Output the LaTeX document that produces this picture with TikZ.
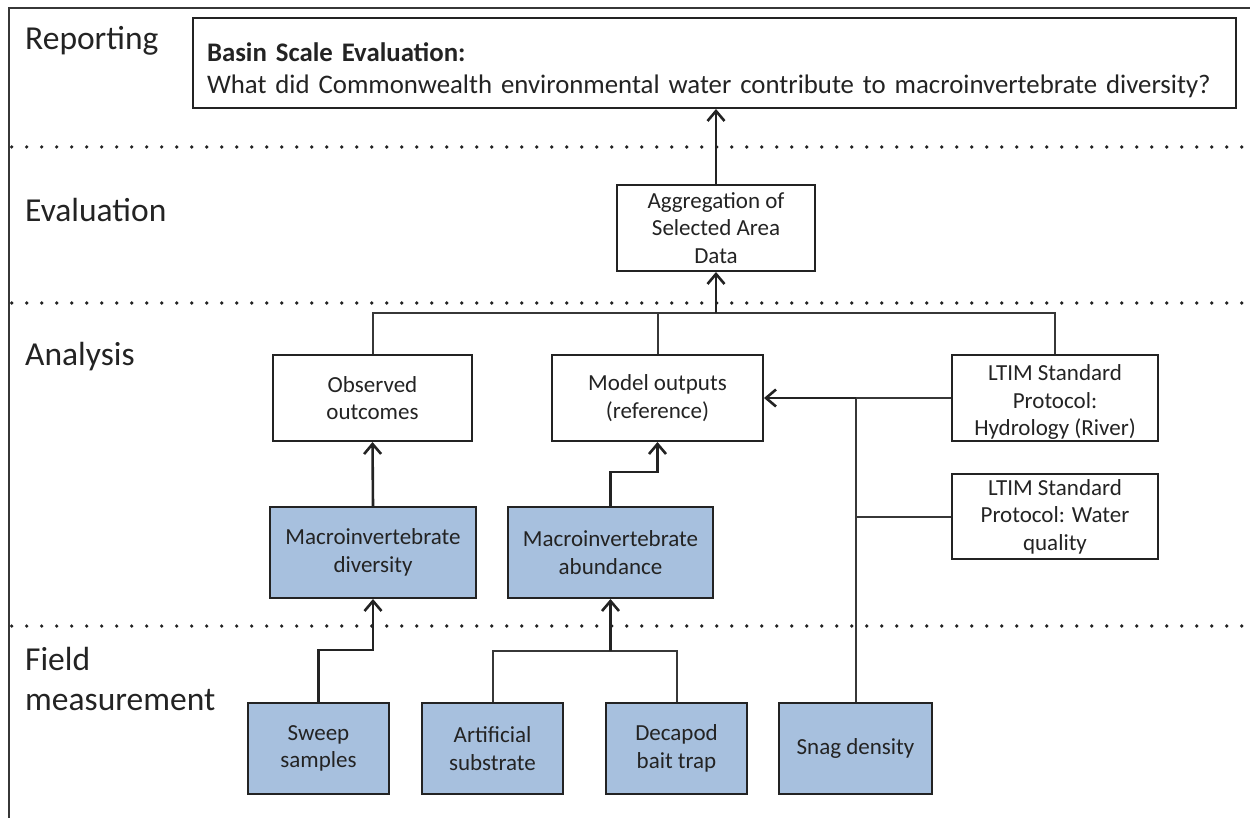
\documentclass[tikz,border=0pt]{standalone}
\usepackage{fontspec}
\setmainfont{Carlito}
\usetikzlibrary{arrows.meta}
\definecolor{fieldblue}{RGB}{167,192,222}
\definecolor{ink}{RGB}{35,35,35}
\definecolor{wire}{RGB}{55,55,55}

\begin{document}
\begin{tikzpicture}[x=1pt,y=-1pt,
  box/.style={draw=ink, line width=2pt, inner sep=0pt, align=center, text=ink,
    font=\fontsize{23}{27.5}\selectfont},
  bluebox/.style={box, fill=fieldblue},
  conn/.style={draw=wire, line width=2pt},
  arr/.style={draw=ink, line width=2.6pt,
    -{Straight Barb[length=10pt,width=17pt,line width=2.6pt]}},
  band/.style={draw=ink, line width=3.6pt, line cap=round, dash pattern=on 0pt off 15pt},
  lane/.style={anchor=base west, inner sep=0pt, text=ink,
    font=\fontsize{33.5}{40}\selectfont}]
\useasboundingbox (0,0) rectangle (1250,818);

% outer frame
\draw[draw=wire, line width=2pt] (9,818) -- (9,8) -- (1250,8);

% lane separators
\draw[band] (11.7,147) -- (1250,147);
\draw[band] (11.7,303) -- (1250,303);
\draw[band] (11.7,626) -- (1250,626);

% lane titles
\node[lane] (lrep) at (25,50) {Reporting};
\node[lane] (leva) at (25,222) {Evaluation};
\node[lane] (lana) at (25,365) {Analysis};
\node[lane] (lfie) at (25,670) {Field};
\node[lane] (lmea) at (25,710) {measurement};

% reporting
\node[box, minimum width=1043pt, minimum height=90pt, text width=1015pt, align=left,
  font=\fontsize{26.8}{32}\selectfont] (basin) at (714.5,63)
  {\rule{0pt}{34pt}\mbox{\textbf{Basin Scale Evaluation:}}\\
   \mbox{What did Commonwealth environmental water contribute to macroinvertebrate diversity?}};

% evaluation
\node[box, minimum width=198pt, minimum height=86pt] (agg) at (716,228)
  {Aggregation of\\Selected Area\\Data};

% analysis
\node[box, minimum width=199pt, minimum height=86pt] (obs) at (372.5,398)
  {Observed\\outcomes};
\node[box, minimum width=211pt, minimum height=86pt] (model) at (657.5,398)
  {Model outputs\\(reference)};
\node[box, minimum width=206pt, minimum height=86pt] (ltimA) at (1055,398)
  {\rule{0pt}{24pt}LTIM Standard\\Protocol:\\Hydrology (River)};
\node[box, minimum width=206pt, minimum height=85pt] (ltimB) at (1055,516.5)
  {LTIM Standard\\Protocol: Water\\quality};
\node[bluebox, minimum width=206pt, minimum height=91pt] (div) at (373,552.5)
  {Macroinvertebrate\\diversity};
\node[bluebox, minimum width=205pt, minimum height=91pt] (abu) at (610.5,552.5)
  {Macroinvertebrate\\abundance};

% field measurement
\node[bluebox, minimum width=141pt, minimum height=91pt] (sweep) at (318.5,748.5)
  {Sweep\\samples};
\node[bluebox, minimum width=141pt, minimum height=91pt] (art) at (492.5,748.5)
  {Artificial\\substrate};
\node[bluebox, minimum width=141pt, minimum height=91pt] (dec) at (676.5,748.5)
  {Decapod\\bait trap};
\node[bluebox, minimum width=153pt, minimum height=91pt] (snag) at (855.5,748.5)
  {Snag density};

% junction points
\coordinate (bus) at (716,313);
\coordinate (hyd) at (855.5,398);
\coordinate (fieldjoin) at (610.5,651);

% connectors
\draw[arr] (agg.north) -- (agg.north |- basin.south);
\draw[conn] (obs.north) |- (bus) -| (ltimA.north);
\draw[conn] (model.north) -- (model.north |- bus);
\draw[arr] (bus) -- (agg.south);

\draw[arr] (div.north) -- (obs.south);
\draw[arr] (abu.north) -- ++(0,-34) -| (model.south);

\draw[conn] (ltimA.west) -- (hyd);
\draw[conn] (ltimB.west) -- (ltimB.west -| hyd);
\draw[conn] (snag.north) -- (hyd);
\draw[arr] (hyd) -- (model.east);

\draw[arr] (sweep.north) -- ++(0,-52) -| (div.south);
\draw[conn] (art.north) |- (fieldjoin) -| (dec.north);
\draw[arr] (fieldjoin) -- (abu.south);
\end{tikzpicture}
\end{document}
